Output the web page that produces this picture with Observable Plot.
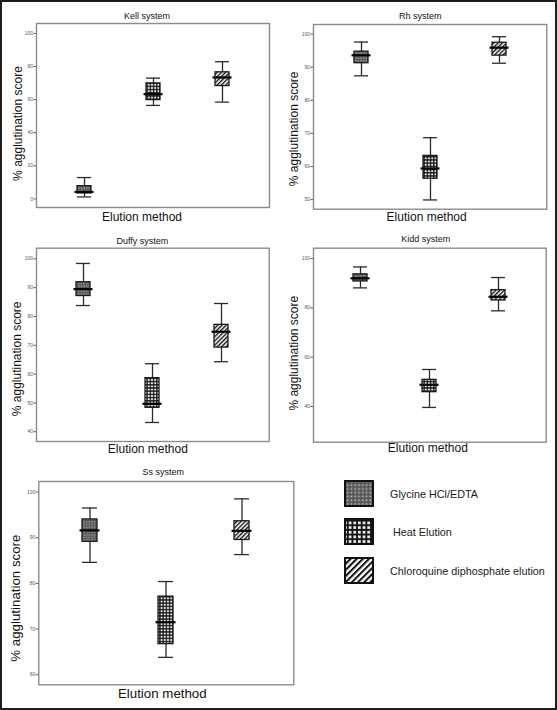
<!DOCTYPE html>
<html><head><meta charset="utf-8">
<script src="https://cdn.jsdelivr.net/npm/d3@7"></script>
<script src="https://cdn.jsdelivr.net/npm/@observablehq/plot@0.6"></script>
<style>
body{margin:0;background:#fff;}
#page{position:relative;width:557px;height:710px;overflow:hidden;font-family:"Liberation Sans",Arial,sans-serif;background:#fff;}
#border{position:absolute;left:0;top:0;width:557px;height:710px;box-sizing:border-box;border:2px solid #1e1e1e;pointer-events:none;}
.panel{position:absolute;}
</style></head><body><div id="page"></div>
<script>
// ---- data ----
const methods = ["Glycine HCl/EDTA", "Heat Elution", "Chloroquine diphosphate elution"];
const yLabel = "% agglutination score";
const xLabel = "Elution method";

// values ordered as methods: [Glycine, Heat, Chloroquine]
const kellLow = [1.2, 56.5, 58.5];
const kellQ1 = [3.3, 59.7, 68.2];
const kellMedian = [4.2, 63.3, 73.4];
const kellQ3 = [7.7, 69.8, 76.5];
const kellHigh = [12.9, 73.0, 82.9];
const kellTicks = [0, 20, 40, 60, 80, 100];

const rhLow = [87.4, 49.9, 91.2];
const rhQ1 = [91.2, 56.3, 93.5];
const rhMedian = [93.6, 59.4, 95.9];
const rhQ3 = [94.7, 63.2, 97.4];
const rhHigh = [97.6, 68.7, 99.2];
const rhTicks = [50, 60, 70, 80, 90, 100];

const duffyLow = [83.8, 43.2, 64.3];
const duffyQ1 = [87.1, 48.3, 69.2];
const duffyMedian = [89.5, 49.7, 74.7];
const duffyQ3 = [91.9, 58.6, 77.1];
const duffyHigh = [98.4, 63.6, 84.5];
const duffyTicks = [40, 50, 60, 70, 80, 90, 100];

const kiddLow = [88.1, 39.6, 78.8];
const kiddQ1 = [90.7, 45.8, 83.0];
const kiddMedian = [92.0, 48.8, 84.5];
const kiddQ3 = [93.6, 50.8, 87.2];
const kiddHigh = [96.6, 55.0, 92.3];
const kiddTicks = [40, 60, 80, 100];

const ssLow = [84.6, 63.8, 86.3];
const ssQ1 = [89.1, 66.7, 89.5];
const ssMedian = [91.6, 71.5, 91.5];
const ssQ3 = [94.0, 77.1, 93.6];
const ssHigh = [96.5, 80.4, 98.5];
const ssTicks = [60, 70, 80, 90, 100];

// ---- layout ----
const panels = [
  {name: "Kell system", low: kellLow, q1: kellQ1, median: kellMedian, q3: kellQ3, high: kellHigh, ticks: kellTicks,
   domain: [-5.2, 106], left: 0, top: 0, width: 277, height: 228, m: [23, 8, 21, 36],
   tDx: -6, tDy: -4.5, yDx: -18, yDy: 8, xDx: -11, xDy: 4.5, fs: 12},
  {name: "Rh system", low: rhLow, q1: rhQ1, median: rhMedian, q3: rhQ3, high: rhHigh, ticks: rhTicks,
   domain: [47.1, 102.9], left: 277, top: 0, width: 280, height: 228, m: [24, 10.7, 19.3, 36],
   tDx: -10, tDy: -6, yDx: -19, yDy: 12, xDx: -3.5, xDy: 2.8, fs: 12},
  {name: "Duffy system", low: duffyLow, q1: duffyQ1, median: duffyMedian, q3: duffyQ3, high: duffyHigh, ticks: duffyTicks,
   domain: [36.6, 103.7], left: 0, top: 228, width: 277, height: 228, m: [19.7, 8.3, 15, 36],
   tDx: -10.5, tDy: -4.7, yDx: -19, yDy: 14, xDx: -5, xDy: 3.2, fs: 12},
  {name: "Kidd system", low: kiddLow, q1: kiddQ1, median: kiddMedian, q3: kiddQ3, high: kiddHigh, ticks: kiddTicks,
   domain: [25.5, 104.2], left: 277, top: 228, width: 280, height: 228, m: [19.7, 11.3, 14.3, 36],
   tDx: -4, tDy: -6, yDx: -19, yDy: 8, xDx: -2, xDy: 1.5, fs: 12},
  {name: "Ss system", low: ssLow, q1: ssQ1, median: ssMedian, q3: ssQ3, high: ssHigh, ticks: ssTicks,
   domain: [57.8, 102.3], left: 0, top: 456, width: 310, height: 254, m: [25, 16.7, 25.7, 38.3],
   tDx: -3, tDy: -7, yDx: -22.6, yDy: 15, xDx: -4, xDy: 4.2, fs: 13.3}
];

const page = document.getElementById("page");

// ---- patterns + legend ----
const legendItems = methods.map((m, i) => ({method: m, i}));
const leg = d3.select(page).append("svg")
  .attr("class", "panel")
  .style("left", "320px").style("top", "465px")
  .attr("width", 237).attr("height", 140);
const defs = leg.append("defs");
function makePatterns(suffix, s) {
  const g = defs.append("pattern").attr("id", "pGly" + suffix).attr("patternUnits", "userSpaceOnUse")
    .attr("width", 2.6 * s).attr("height", 2.6 * s);
  g.append("rect").attr("width", 2.6 * s).attr("height", 2.6 * s).attr("fill", "#555");
  g.append("rect").attr("x", 0.3 * s).attr("y", 0.3 * s).attr("width", 1.2 * s).attr("height", 1.2 * s).attr("fill", "#b8b8b8");
  const h = defs.append("pattern").attr("id", "pHeat" + suffix).attr("patternUnits", "userSpaceOnUse")
    .attr("width", 3.2 * s).attr("height", 3.2 * s);
  h.append("rect").attr("width", 3.2 * s).attr("height", 3.2 * s).attr("fill", "#111");
  h.append("rect").attr("x", 0.6 * s).attr("y", 0.6 * s).attr("width", 1.9 * s).attr("height", 1.9 * s).attr("fill", "#f2f2f2");
  const c = defs.append("pattern").attr("id", "pChl" + suffix).attr("patternUnits", "userSpaceOnUse")
    .attr("width", 3.0 * s).attr("height", 3.0 * s).attr("patternTransform", "rotate(45)");
  c.append("rect").attr("width", 3.0 * s).attr("height", 3.0 * s).attr("fill", "#fff");
  c.append("rect").attr("width", 1.4 * s).attr("height", 3.0 * s).attr("fill", "#111");
}
makePatterns("", 1);
makePatterns("L", 1.45);
const boxFills = ["url(#pGly)", "url(#pHeat)", "url(#pChl)"];
const legendFills = ["url(#pGlyL)", "url(#pHeatL)", "url(#pChlL)"];
const legendRowTop = [16, 54, 93];
const legendTextX = [70, 73, 70];
leg.selectAll("rect.sw").data(legendItems).join("rect").attr("class", "sw")
  .attr("x", 25).attr("y", d => legendRowTop[d.i]).attr("width", 28).attr("height", 25)
  .attr("fill", d => legendFills[d.i]).attr("stroke", "#111").attr("stroke-width", 2);
leg.selectAll("text").data(legendItems).join("text")
  .attr("x", d => legendTextX[d.i]).attr("y", d => legendRowTop[d.i] + 16.5)
  .attr("font-family", "Liberation Sans, Arial, sans-serif").attr("font-size", 10.8).attr("fill", "#1a1a1a")
  .text(d => d.method);

// ---- panels ----
for (const p of panels) {
  const rows = methods.map((m, i) => ({method: m, low: p.low[i], q1: p.q1[i], median: p.median[i], q3: p.q3[i], high: p.high[i]}));
  const chart = Plot.plot({
    width: p.width, height: p.height,
    marginTop: p.m[0], marginRight: p.m[1], marginBottom: p.m[2], marginLeft: p.m[3],
    style: {fontFamily: "Liberation Sans, Arial, sans-serif", fontSize: "5px", color: "#555", background: "transparent", overflow: "visible"},
    x: {type: "band", domain: methods, paddingInner: 0.8, paddingOuter: 0.57, axis: null},
    y: {domain: p.domain, ticks: p.ticks, tickSize: 2.5, tickPadding: 1, label: null, tickFormat: d => String(d)},
    color: {type: "ordinal", domain: methods, range: boxFills},
    marks: [
      Plot.frame({stroke: "#8c8c8c", strokeWidth: 1.4}),
      Plot.ruleX(rows, {x: "method", y1: "low", y2: "high", stroke: "#2a2a2a", strokeWidth: 1.3}),
      Plot.barY(rows, {x: "method", y1: "q1", y2: "q3", fill: "method", stroke: "#1a1a1a", strokeWidth: 1.3}),
      Plot.tickY(rows, {x: "method", y: "low", stroke: "#2a2a2a", strokeWidth: 1.3}),
      Plot.tickY(rows, {x: "method", y: "high", stroke: "#2a2a2a", strokeWidth: 1.3}),
      Plot.tickY(rows, {x: "method", y: "median", stroke: "#000", strokeWidth: 2.2, insetLeft: -2.5, insetRight: -2.5}),
      Plot.text([p.name], {frameAnchor: "top", textAnchor: "middle", lineAnchor: "bottom", dx: p.tDx, dy: p.tDy, fontSize: 9, fill: "#111"}),
      Plot.text([yLabel], {frameAnchor: "left", textAnchor: "middle", lineAnchor: "middle", rotate: -90, dx: p.yDx, dy: p.yDy, fontSize: p.fs, fill: "#111"}),
      Plot.text([xLabel], {frameAnchor: "bottom", textAnchor: "middle", lineAnchor: "top", dx: p.xDx, dy: p.xDy, fontSize: p.fs, fill: "#111"})
    ]
  });
  chart.classList.add("panel");
  chart.style.position = "absolute";
  chart.style.left = p.left + "px";
  chart.style.top = p.top + "px";
  page.appendChild(chart);
}

const border = document.createElement("div");
border.id = "border";
page.appendChild(border);
</script>
</body></html>
